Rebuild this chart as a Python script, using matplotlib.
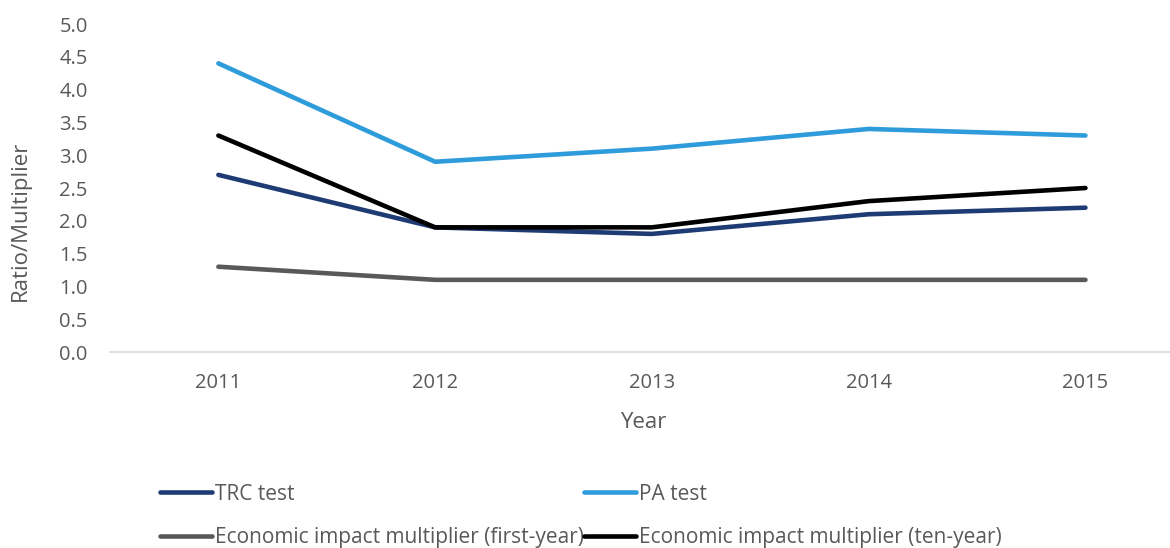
import matplotlib
matplotlib.use("Agg")
import matplotlib.pyplot as plt

years = ["2011", "2012", "2013", "2014", "2015"]
trc = [2.7, 1.9, 1.8, 2.1, 2.2]
pa = [4.4, 2.9, 3.1, 3.4, 3.3]
first_year = [1.3, 1.1, 1.1, 1.1, 1.1]
ten_year = [3.3, 1.9, 1.9, 2.3, 2.5]
yticks = [0.0, 0.5, 1.0, 1.5, 2.0, 2.5, 3.0, 3.5, 4.0, 4.5, 5.0]

plt.rcParams['font.family'] = ['Open Sans', 'DejaVu Sans']
txt = '#595959'

fig = plt.figure(figsize=(11.7, 5.48), dpi=100)
ax = fig.add_axes([110/1170, 1 - 352/548, 1 - 110/1170, (352 - 24)/548])

x = list(range(len(years)))
l_trc, = ax.plot(x, trc, color='#1F3B73', lw=3.3, label='TRC test', solid_capstyle='round')
l_pa, = ax.plot(x, pa, color='#2E9BDA', lw=3.3, label='PA test', solid_capstyle='round')
l_fy, = ax.plot(x, first_year, color='#595959', lw=3.3, label='Economic impact multiplier (first-year)', solid_capstyle='round')
l_ty, = ax.plot(x, ten_year, color='#000000', lw=3.3, label='Economic impact multiplier (ten-year)', solid_capstyle='round')

ax.set_xlim(-0.5, 4.39)
ax.set_ylim(0, 5.0)
ax.set_yticks(yticks)
ax.set_yticklabels([f"{v:.1f}" for v in yticks])
ax.set_xticks(x)
ax.set_xticklabels(years)
ax.tick_params(axis='both', length=0, colors=txt, labelsize=14.5)
ax.tick_params(axis='x', pad=15)
ax.tick_params(axis='y', pad=16)
for s in ['top', 'right', 'left']:
    ax.spines[s].set_visible(False)
ax.spines['bottom'].set_color('#d9d9d9')
ax.spines['bottom'].set_linewidth(1.2)
ax.set_xlabel('Year', color=txt, fontsize=16)
ax.set_ylabel('Ratio/Multiplier', color=txt, fontsize=16)
ax.xaxis.set_label_coords((643 - 110) / 1060, -(422 - 352) / 328)
ax.yaxis.set_label_coords((20 - 110) / 1060, (352 - 221) / 328)
ax.xaxis.label.set_va('center')
ax.yaxis.label.set_va('center')

handles = [l_trc, l_fy, l_pa, l_ty]
leg = fig.legend(handles=handles, labels=[h.get_label() for h in handles],
                 loc='center left', bbox_to_anchor=(160/1170, 1 - 516/548), ncol=2, frameon=False,
                 fontsize=15, handlelength=2.5, handletextpad=0.15, columnspacing=0.0,
                 labelspacing=1.1, borderpad=0, borderaxespad=0)
for t in leg.get_texts():
    t.set_color(txt)

fig.savefig('out.png', dpi=100, facecolor='white')
